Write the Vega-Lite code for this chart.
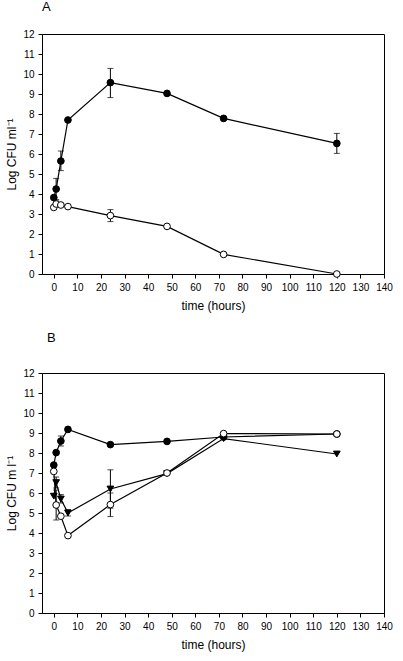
{
  "$schema": "https://vega.github.io/schema/vega-lite/v6.json",
  "padding": {"left": 5, "top": 0, "right": 5, "bottom": 5},
  "config": {
    "font": "Liberation Sans",
    "view": {"stroke": "black", "strokeWidth": 1},
    "axis": {"grid": false, "domainColor": "black", "tickColor": "black", "labelColor": "black", "titleColor": "black", "labelFontSize": 10, "titleFontSize": 12, "titleFontWeight": "normal", "tickSize": 4, "labelPadding": 4, "labelOverlap": false, "labelFlush": false},
    "style": {"guide-title": {"fontWeight": "normal"}},
    "title": {"fontSize": 13, "fontWeight": "normal", "anchor": "start", "frame": "group", "color": "black"},
    "concat": {"spacing": 19}
  },
  "datasets": {
    "a": [
      {"s": "filled", "t": 0, "y": 3.82},
      {"s": "filled", "t": 1, "y": 4.25, "lo": 3.72, "hi": 4.78},
      {"s": "filled", "t": 3, "y": 5.65, "lo": 5.17, "hi": 6.15},
      {"s": "filled", "t": 6, "y": 7.7},
      {"s": "filled", "t": 24, "y": 9.57, "lo": 8.82, "hi": 10.28},
      {"s": "filled", "t": 48, "y": 9.03, "lo": 8.95, "hi": 9.12},
      {"s": "filled", "t": 72, "y": 7.78},
      {"s": "filled", "t": 120, "y": 6.53, "lo": 6.03, "hi": 7.03},
      {"s": "open", "t": 0, "y": 3.33},
      {"s": "open", "t": 1, "y": 3.5, "lo": 3.35, "hi": 3.65},
      {"s": "open", "t": 3, "y": 3.45},
      {"s": "open", "t": 6, "y": 3.37},
      {"s": "open", "t": 24, "y": 2.92, "lo": 2.62, "hi": 3.22},
      {"s": "open", "t": 48, "y": 2.38},
      {"s": "open", "t": 72, "y": 0.98},
      {"s": "open", "t": 120, "y": 0}
    ],
    "b": [
      {"s": "filled", "t": 0, "y": 7.4},
      {"s": "filled", "t": 1, "y": 8.02},
      {"s": "filled", "t": 3, "y": 8.6, "lo": 8.35, "hi": 8.85},
      {"s": "filled", "t": 6, "y": 9.18},
      {"s": "filled", "t": 24, "y": 8.42},
      {"s": "filled", "t": 48, "y": 8.58},
      {"s": "filled", "t": 72, "y": 8.8},
      {"s": "filled", "t": 120, "y": 8.95},
      {"s": "tri", "t": 0, "y": 5.84},
      {"s": "tri", "t": 1, "y": 6.52, "lo": 6.25, "hi": 6.8},
      {"s": "tri", "t": 3, "y": 5.7, "lo": 5.5, "hi": 5.92},
      {"s": "tri", "t": 6, "y": 5.0, "lo": 4.85, "hi": 5.17},
      {"s": "tri", "t": 24, "y": 6.2, "lo": 5.24, "hi": 7.16},
      {"s": "tri", "t": 48, "y": 6.97},
      {"s": "tri", "t": 72, "y": 8.72},
      {"s": "tri", "t": 120, "y": 7.95},
      {"s": "open", "t": 0, "y": 7.08},
      {"s": "open", "t": 1, "y": 5.4, "lo": 4.65, "hi": 6.15},
      {"s": "open", "t": 3, "y": 4.84},
      {"s": "open", "t": 6, "y": 3.87},
      {"s": "open", "t": 24, "y": 5.42, "lo": 4.82, "hi": 6.0},
      {"s": "open", "t": 48, "y": 7.0},
      {"s": "open", "t": 72, "y": 8.97},
      {"s": "open", "t": 120, "y": 8.95}
    ]
  },
  "vconcat": [
    {
      "title": {"text": "A", "offset": 15},
      "width": 342, "height": 240,
      "data": {"name": "a"},
      "encoding": {
        "x": {"field": "t", "type": "quantitative", "title": "time (hours)", "scale": {"domain": [-5, 140], "nice": false, "zero": false}, "axis": {"values": [0, 10, 20, 30, 40, 50, 60, 70, 80, 90, 100, 110, 120, 130, 140], "titleFontWeight": "normal", "titlePadding": 8, "labelOverlap": false, "labelFlush": false}}
      },
      "layer": [
        {"mark": {"type": "line", "color": "black", "strokeWidth": 1.2}, "encoding": {"y": {"field": "y", "type": "quantitative", "title": "Log CFU ml⁻¹", "scale": {"domain": [0, 12], "nice": false}, "axis": {"values": [0, 1, 2, 3, 4, 5, 6, 7, 8, 9, 10, 11, 12], "titleFontWeight": "normal", "labelOverlap": false, "labelFlush": false}}, "detail": {"field": "s"}}},
        {"transform": [{"filter": "datum.lo != null"}], "mark": {"type": "rule", "color": "black", "strokeWidth": 1}, "encoding": {"y": {"field": "lo", "type": "quantitative", "title": "Log CFU ml⁻¹", "axis": {"values": [0, 1, 2, 3, 4, 5, 6, 7, 8, 9, 10, 11, 12], "titleFontWeight": "normal", "labelOverlap": false, "labelFlush": false}}, "y2": {"field": "hi"}}},
        {"transform": [{"filter": "datum.lo != null"}], "mark": {"type": "tick", "orient": "horizontal", "color": "black", "size": 6, "thickness": 1}, "encoding": {"y": {"field": "lo", "type": "quantitative", "title": "Log CFU ml⁻¹", "axis": {"values": [0, 1, 2, 3, 4, 5, 6, 7, 8, 9, 10, 11, 12], "titleFontWeight": "normal", "labelOverlap": false, "labelFlush": false}}}},
        {"transform": [{"filter": "datum.hi != null"}], "mark": {"type": "tick", "orient": "horizontal", "color": "black", "size": 6, "thickness": 1}, "encoding": {"y": {"field": "hi", "type": "quantitative", "title": "Log CFU ml⁻¹", "axis": {"values": [0, 1, 2, 3, 4, 5, 6, 7, 8, 9, 10, 11, 12], "titleFontWeight": "normal", "labelOverlap": false, "labelFlush": false}}}},
        {"mark": {"type": "point", "filled": true, "size": 45, "stroke": "black", "strokeWidth": 1, "opacity": 1}, "encoding": {
          "y": {"field": "y", "type": "quantitative", "title": "Log CFU ml⁻¹", "axis": {"values": [0, 1, 2, 3, 4, 5, 6, 7, 8, 9, 10, 11, 12], "titleFontWeight": "normal", "labelOverlap": false, "labelFlush": false}},
          "shape": {"field": "s", "scale": {"domain": ["filled", "open", "tri"], "range": ["circle", "circle", "triangle-down"]}, "legend": null},
          "fill": {"field": "s", "scale": {"domain": ["filled", "open", "tri"], "range": ["black", "white", "black"]}, "legend": null}
        }}
      ]
    },
    {
      "title": {"text": "B", "offset": 23, "dx": 5},
      "width": 342, "height": 240,
      "data": {"name": "b"},
      "encoding": {
        "x": {"field": "t", "type": "quantitative", "title": "time (hours)", "scale": {"domain": [-5, 140], "nice": false, "zero": false}, "axis": {"values": [0, 10, 20, 30, 40, 50, 60, 70, 80, 90, 100, 110, 120, 130, 140], "titleFontWeight": "normal", "titlePadding": 8, "labelOverlap": false, "labelFlush": false}}
      },
      "layer": [
        {"mark": {"type": "line", "color": "black", "strokeWidth": 1.2}, "encoding": {"y": {"field": "y", "type": "quantitative", "title": "Log CFU m l⁻¹", "scale": {"domain": [0, 12], "nice": false}, "axis": {"values": [0, 1, 2, 3, 4, 5, 6, 7, 8, 9, 10, 11, 12], "titleFontWeight": "normal", "labelOverlap": false, "labelFlush": false}}, "detail": {"field": "s"}}},
        {"transform": [{"filter": "datum.lo != null"}], "mark": {"type": "rule", "color": "black", "strokeWidth": 1}, "encoding": {"y": {"field": "lo", "type": "quantitative", "title": "Log CFU m l⁻¹", "axis": {"values": [0, 1, 2, 3, 4, 5, 6, 7, 8, 9, 10, 11, 12], "titleFontWeight": "normal", "labelOverlap": false, "labelFlush": false}}, "y2": {"field": "hi"}}},
        {"transform": [{"filter": "datum.lo != null"}], "mark": {"type": "tick", "orient": "horizontal", "color": "black", "size": 6, "thickness": 1}, "encoding": {"y": {"field": "lo", "type": "quantitative", "title": "Log CFU m l⁻¹", "axis": {"values": [0, 1, 2, 3, 4, 5, 6, 7, 8, 9, 10, 11, 12], "titleFontWeight": "normal", "labelOverlap": false, "labelFlush": false}}}},
        {"transform": [{"filter": "datum.hi != null"}], "mark": {"type": "tick", "orient": "horizontal", "color": "black", "size": 6, "thickness": 1}, "encoding": {"y": {"field": "hi", "type": "quantitative", "title": "Log CFU m l⁻¹", "axis": {"values": [0, 1, 2, 3, 4, 5, 6, 7, 8, 9, 10, 11, 12], "titleFontWeight": "normal", "labelOverlap": false, "labelFlush": false}}}},
        {"mark": {"type": "point", "filled": true, "size": 45, "stroke": "black", "strokeWidth": 1, "opacity": 1}, "encoding": {
          "y": {"field": "y", "type": "quantitative", "title": "Log CFU m l⁻¹", "axis": {"values": [0, 1, 2, 3, 4, 5, 6, 7, 8, 9, 10, 11, 12], "titleFontWeight": "normal", "labelOverlap": false, "labelFlush": false}},
          "shape": {"field": "s", "scale": {"domain": ["filled", "open", "tri"], "range": ["circle", "circle", "triangle-down"]}, "legend": null},
          "fill": {"field": "s", "scale": {"domain": ["filled", "open", "tri"], "range": ["black", "white", "black"]}, "legend": null}
        }}
      ]
    }
  ]
}
